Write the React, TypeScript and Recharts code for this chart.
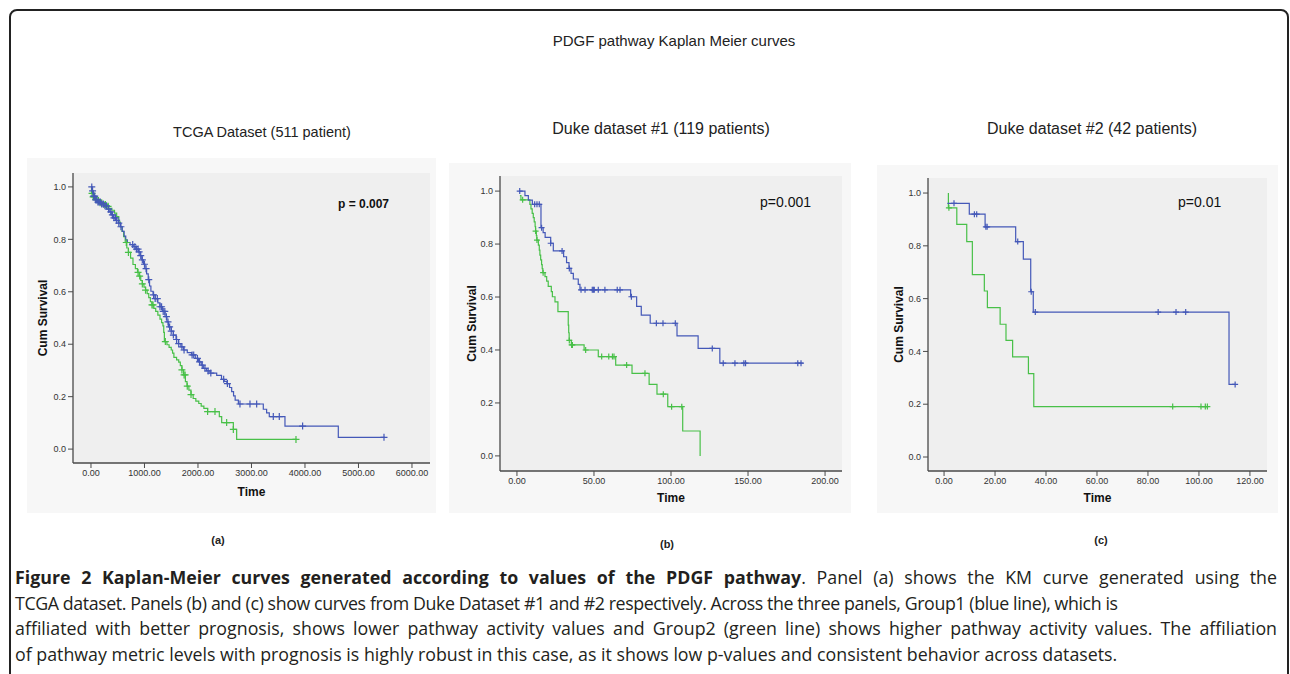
import { ComposedChart, Line, Scatter, XAxis, YAxis, CartesianGrid, Label } from 'recharts'

type Pair = [number, number]

// ---------- axis ticks ----------
const survTicks = [0, 0.2, 0.4, 0.6, 0.8, 1.0]
const tcgaTimeTicks = [0, 1000, 2000, 3000, 4000, 5000, 6000]
const duke1TimeTicks = [0, 50, 100, 150, 200]
const duke2TimeTicks = [0, 20, 40, 60, 80, 100, 120]

// ---------- (a) TCGA dataset: [time, cum survival after the step] ----------
const tcgaGroup1: Pair[] = [
  [0, 1.0], [20, 0.985], [45, 0.965], [80, 0.95], [120, 0.942], [180, 0.935], [240, 0.928],
  [300, 0.915], [340, 0.905], [380, 0.893], [420, 0.882], [470, 0.872], [510, 0.862],
  [550, 0.848], [585, 0.83], [620, 0.812], [650, 0.798], [680, 0.788], [730, 0.78],
  [790, 0.772], [840, 0.763], [885, 0.752], [920, 0.738], [950, 0.722], [980, 0.705],
  [1010, 0.688], [1040, 0.668], [1070, 0.646], [1095, 0.622], [1120, 0.602], [1160, 0.588],
  [1200, 0.574], [1250, 0.558], [1290, 0.543], [1340, 0.525], [1385, 0.505], [1420, 0.485],
  [1450, 0.466], [1500, 0.45], [1540, 0.435], [1590, 0.418], [1635, 0.402], [1680, 0.39],
  [1730, 0.378], [1800, 0.368], [1880, 0.359], [1950, 0.346], [2010, 0.333], [2060, 0.32],
  [2100, 0.308], [2160, 0.298], [2225, 0.29], [2350, 0.281], [2440, 0.266], [2490, 0.258],
  [2540, 0.25], [2590, 0.235], [2630, 0.219], [2665, 0.203], [2695, 0.187], [2755, 0.172],
  [3221, 0.152], [3283, 0.138], [3333, 0.124], [3626, 0.088], [4623, 0.045], [5495, 0.045],
]
const tcgaGroup2: Pair[] = [
  [0, 1.0], [10, 0.975], [40, 0.962], [80, 0.952], [120, 0.948], [170, 0.94], [220, 0.933],
  [280, 0.926], [330, 0.918], [390, 0.911], [440, 0.9], [480, 0.887], [520, 0.866],
  [550, 0.848], [580, 0.83], [610, 0.81], [640, 0.788], [670, 0.767], [700, 0.75],
  [740, 0.728], [785, 0.704], [830, 0.688], [870, 0.674], [900, 0.66], [930, 0.643],
  [960, 0.63], [990, 0.618], [1020, 0.606], [1050, 0.593], [1080, 0.578], [1110, 0.562],
  [1140, 0.55], [1175, 0.537], [1210, 0.525], [1250, 0.511], [1290, 0.496], [1320, 0.482],
  [1345, 0.47], [1360, 0.445], [1372, 0.41], [1420, 0.398], [1460, 0.388], [1500, 0.378],
  [1525, 0.366], [1550, 0.35], [1600, 0.34], [1640, 0.332], [1670, 0.318], [1700, 0.302],
  [1730, 0.283], [1765, 0.257], [1795, 0.24], [1830, 0.225], [1870, 0.208], [1910, 0.193],
  [1960, 0.183], [2015, 0.174], [2060, 0.164], [2110, 0.155], [2180, 0.143], [2399, 0.124],
  [2443, 0.101], [2661, 0.075], [2723, 0.037], [3840, 0.037],
]
const tcgaGroup1Censored = [
  15, 30, 50, 70, 90, 110, 130, 150, 175, 200, 230, 260, 290, 330, 370, 400, 430, 460, 480,
  520, 560, 780, 820, 850, 880, 900, 930, 960, 1000, 1030, 1080, 1170, 1200, 1240, 1290,
  1320, 1350, 1380, 1410, 1440, 1470, 1500, 1540, 1600, 1640, 1700, 1740, 1890, 1920, 1990,
  2030, 2080, 2130, 2190, 2240, 2480, 2550, 2785, 2972, 3097, 3408, 3520, 3956, 5477,
]
const tcgaGroup2Censored = [
  20, 40, 60, 90, 110, 140, 170, 200, 240, 270, 320, 660, 700, 880, 910, 960, 1020, 1140,
  1160, 1390, 1700, 1740, 1760, 1800, 1870, 2180, 2318, 2536, 2661, 3832,
]

// ---------- (b) Duke dataset #1 ----------
const duke1Group1: Pair[] = [
  [1.3, 1.0], [5.2, 0.983], [7.4, 0.966], [10.0, 0.95], [15.6, 0.862], [17.0, 0.843],
  [18.3, 0.825], [21.9, 0.803], [23.6, 0.774], [30.3, 0.752], [32.2, 0.73], [33.8, 0.708],
  [35.1, 0.689], [36.6, 0.668], [39.8, 0.648], [40.9, 0.627], [73.8, 0.601], [77.7, 0.565],
  [80.7, 0.532], [86.5, 0.501], [103.9, 0.453], [117.6, 0.406], [131.7, 0.35], [185.6, 0.35],
]
const duke1Group2: Pair[] = [
  [1.9, 0.983], [2.6, 0.967], [8.4, 0.95], [9.1, 0.933], [9.9, 0.916], [10.6, 0.9],
  [11.2, 0.884], [11.8, 0.866], [12.1, 0.849], [12.6, 0.832], [12.9, 0.815], [13.9, 0.796],
  [14.5, 0.777], [14.9, 0.758], [15.4, 0.74], [16.0, 0.722], [16.4, 0.707], [16.8, 0.692],
  [18.2, 0.677], [19.3, 0.66], [20.3, 0.64], [22.3, 0.62], [23.0, 0.601], [24.7, 0.582],
  [26.6, 0.545], [33.3, 0.494], [33.6, 0.465], [33.9, 0.436], [35.3, 0.419], [43.6, 0.4],
  [52.8, 0.375], [64.1, 0.343], [74.7, 0.312], [85.8, 0.27], [90.9, 0.233], [97.9, 0.186],
  [107.6, 0.094], [118.9, 0.0],
]
const duke1Group1Censored = [
  1.8, 11.5, 13.0, 14.5, 16.0, 21.9, 29.3, 34.0, 41.6, 44.2, 48.9, 49.6, 50.2, 52.8, 57.1,
  65.1, 66.9, 74.3, 90.5, 94.8, 102.8, 126.8, 133.9, 141.5, 147.3, 148.4, 182.3, 184.4,
]
const duke1Group2Censored = [
  3.7, 12.1, 13.0, 17.0, 34.0, 35.5, 36.0, 44.6, 55.0, 59.6, 62.0, 63.0, 71.2, 83.1, 95.0,
  100.4, 107.0,
]

// ---------- (c) Duke dataset #2 ----------
const duke2Group1: Pair[] = [
  [1.3, 0.961], [9.9, 0.92], [16.1, 0.872], [28.1, 0.816], [31.1, 0.75], [34.0, 0.626],
  [35.0, 0.549], [111.8, 0.275], [114.2, 0.275],
]
const duke2Group2: Pair[] = [
  [1.7, 1.0], [1.7, 0.944], [5.0, 0.881], [8.9, 0.816], [11.1, 0.691], [15.8, 0.629],
  [17.0, 0.566], [22.0, 0.503], [24.3, 0.442], [26.9, 0.379], [33.1, 0.316], [35.2, 0.191],
  [103.5, 0.191],
]
const duke2Group1Censored = [3.9, 11.9, 12.8, 16.4, 16.9, 28.9, 34.2, 35.8, 84, 91, 94.8, 114.2]
const duke2Group2Censored = [1.9, 89.7, 100.8, 102.5, 103.3]

// ---------- helpers ----------
const BLUE = '#4458b8'
const GREEN = '#48c048'
const AXIS = '#4a4a4a'
const FONT = '"Liberation Sans", Arial, sans-serif'

const toRows = (c: Pair[]) => c.map(([t, s]) => ({ t, s }))
const survivalAt = (c: Pair[], t: number) => {
  let s = c[0][1]
  for (const [ti, si] of c) if (ti <= t) s = si
  return s
}
const censorRows = (c: Pair[], times: number[]) => times.map((t) => ({ t, s: survivalAt(c, t) }))

const plus = (color: string, r: number) => (p: any) => (
  <path
    d={`M${p.cx - r},${p.cy}H${p.cx + r}M${p.cx},${p.cy - r}V${p.cy + r}`}
    stroke={color}
    strokeWidth={1.2}
    fill="none"
  />
)

interface PanelProps {
  left: number
  top: number
  width: number
  height: number
  margin: { top: number; right: number; bottom: number; left: number }
  yw: number
  xh: number
  xDomain: [number, number]
  yDomain: [number, number]
  xTicks: number[]
  g1: Pair[]
  g2: Pair[]
  c1: number[]
  c2: number[]
  mark: number
  yLabelDx: number
  xLabelDy: number
}

const KMPanel = (p: PanelProps) => (
  <div style={{ position: 'absolute', left: p.left, top: p.top, width: p.width, height: p.height, background: '#f7f7f7' }}>
    <ComposedChart width={p.width} height={p.height} margin={p.margin}>
      <CartesianGrid fill="#efefef" horizontal={false} vertical={false} stroke="none" />
      <XAxis
        type="number"
        dataKey="t"
        domain={p.xDomain}
        ticks={p.xTicks}
        interval={0}
        allowDataOverflow
        height={p.xh}
        tickFormatter={(v: number) => v.toFixed(2)}
        tick={{ fontSize: 9, fill: '#333' }}
        tickSize={5}
        tickMargin={2}
        axisLine={{ stroke: AXIS, strokeWidth: 1.3 }}
        tickLine={{ stroke: AXIS }}
      >
        <Label value="Time" position="center" dy={p.xLabelDy} fontSize={12} fontWeight="bold" fill="#111" />
      </XAxis>
      <XAxis xAxisId="top" orientation="top" type="number" domain={p.xDomain} allowDataOverflow height={0} tick={false} tickLine={false} axisLine={{ stroke: AXIS, strokeWidth: 1.3 }} />
      <YAxis
        type="number"
        dataKey="s"
        domain={p.yDomain}
        ticks={survTicks}
        interval={0}
        allowDataOverflow
        width={p.yw}
        tickFormatter={(v: number) => v.toFixed(1)}
        tick={{ fontSize: 9, fill: '#333' }}
        tickSize={5}
        tickMargin={2}
        axisLine={{ stroke: AXIS, strokeWidth: 1.3 }}
        tickLine={{ stroke: AXIS }}
      >
        <Label value="Cum Survival" angle={-90} position="center" dx={p.yLabelDx} fontSize={12} fontWeight="bold" fill="#111" />
      </YAxis>
      <YAxis yAxisId="right" orientation="right" type="number" domain={p.yDomain} allowDataOverflow width={0} tick={false} tickLine={false} axisLine={{ stroke: AXIS, strokeWidth: 1.3 }} />
      <Line data={toRows(p.g2)} dataKey="s" type="stepAfter" stroke={GREEN} strokeWidth={1.2} dot={false} isAnimationActive={false} />
      <Line data={toRows(p.g1)} dataKey="s" type="stepAfter" stroke={BLUE} strokeWidth={1.2} dot={false} isAnimationActive={false} />
      <Scatter data={censorRows(p.g2, p.c2)} dataKey="s" shape={plus(GREEN, p.mark)} isAnimationActive={false} />
      <Scatter data={censorRows(p.g1, p.c1)} dataKey="s" shape={plus(BLUE, p.mark)} isAnimationActive={false} />
    </ComposedChart>
  </div>
)

const centered = (cx: number, cy: number, size: number, extra: any = {}) => ({
  position: 'absolute' as const,
  left: cx - 250,
  top: cy - size,
  width: 500,
  lineHeight: `${size * 2}px`,
  textAlign: 'center' as const,
  fontSize: size,
  ...extra,
})

const captionLine = (justify: boolean, letterSpacing = 0) => ({
  width: 1262,
  whiteSpace: 'nowrap' as const,
  letterSpacing,
  textAlign: (justify ? 'justify' : 'left') as any,
  textAlignLast: (justify ? 'justify' : 'left') as any,
})

export default function App() {
  return (
    <div style={{ position: 'fixed', left: 0, top: 0, width: 1290, height: 674, overflow: 'hidden', background: '#fff', fontFamily: FONT, color: '#222' }}>
      <div style={{ position: 'absolute', left: 9, top: 9, width: 1276, height: 720, border: '2px solid #222', borderRadius: 8 }} />

      <div style={centered(674, 41, 15)}>PDGF pathway Kaplan Meier curves</div>
      <div style={centered(262, 132, 14.5)}>TCGA Dataset (511 patient)</div>
      <div style={centered(661, 129, 16)}>Duke dataset #1 (119 patients)</div>
      <div style={centered(1092, 129, 16)}>Duke dataset #2 (42 patients)</div>

      <KMPanel
        left={27} top={158} width={409} height={355}
        margin={{ top: 15, right: 6, bottom: 0, left: 0 }} yw={46} xh={50}
        xDomain={[-336, 6337]} yDomain={[-0.053, 1.053]} xTicks={tcgaTimeTicks}
        g1={tcgaGroup1} g2={tcgaGroup2} c1={tcgaGroup1Censored} c2={tcgaGroup2Censored}
        mark={3.5} yLabelDx={-7} xLabelDy={4}
      />
      <KMPanel
        left={449} top={163} width={402} height={350}
        margin={{ top: 13, right: 9, bottom: 0, left: 0 }} yw={51} xh={42}
        xDomain={[-11, 211]} yDomain={[-0.057, 1.057]} xTicks={duke1TimeTicks}
        g1={duke1Group1} g2={duke1Group2} c1={duke1Group1Censored} c2={duke1Group2Censored}
        mark={3} yLabelDx={-3} xLabelDy={6}
      />
      <KMPanel
        left={877} top={165} width={401} height={348}
        margin={{ top: 13, right: 11, bottom: 0, left: 0 }} yw={51} xh={42}
        xDomain={[-6.3, 126.7]} yDomain={[-0.053, 1.057]} xTicks={duke2TimeTicks}
        g1={duke2Group1} g2={duke2Group2} c1={duke2Group1Censored} c2={duke2Group2Censored}
        mark={3} yLabelDx={-3.5} xLabelDy={6}
      />

      <div style={{ position: 'absolute', left: 338, top: 197, fontSize: 12, fontWeight: 'bold', color: '#111' }}>p = 0.007</div>
      <div style={{ position: 'absolute', left: 760, top: 194, fontSize: 14, color: '#111' }}>p=0.001</div>
      <div style={{ position: 'absolute', left: 1178, top: 194, fontSize: 14, color: '#111' }}>p=0.01</div>

      <div style={centered(218, 540, 11, { fontWeight: 'bold' })}>(a)</div>
      <div style={centered(667, 544, 11, { fontWeight: 'bold' })}>(b)</div>
      <div style={centered(1101, 540, 11, { fontWeight: 'bold' })}>(c)</div>

      <div style={{ position: 'absolute', left: 15, top: 565, fontFamily: '"Open Sans", sans-serif', fontSize: 17.8, lineHeight: '25.5px', color: '#231f20' }}>
        <div style={captionLine(true)}><b>Figure 2 Kaplan-Meier curves generated according to values of the PDGF pathway</b>. Panel (a) shows the KM curve generated using the</div>
        <div style={captionLine(false, -0.4)}>TCGA dataset. Panels (b) and (c) show curves from Duke Dataset #1 and #2 respectively. Across the three panels, Group1 (blue line), which is</div>
        <div style={captionLine(true)}>affiliated with better prognosis, shows lower pathway activity values and Group2 (green line) shows higher pathway activity values. The affiliation</div>
        <div style={captionLine(false)}>of pathway metric levels with prognosis is highly robust in this case, as it shows low p-values and consistent behavior across datasets.</div>
      </div>
    </div>
  )
}
